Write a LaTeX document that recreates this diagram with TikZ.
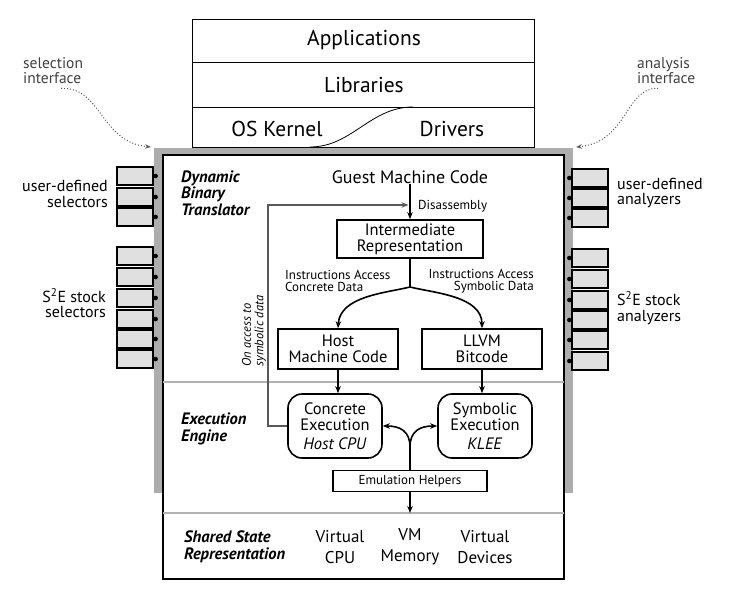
\documentclass[tikz,border=0pt]{standalone}
\usepackage{fontspec}
\setmainfont{PT Sans}
\usetikzlibrary{arrows.meta}
\tikzset{
  blk/.style={draw, line width=1.6pt, fill=white, align=center, inner sep=0pt, font=\fontsize{16.5}{16}\selectfont},
  exec/.style={blk, rounded corners=14pt, minimum width=94pt, minimum height=64pt},
  selbox/.style={draw, line width=1.3pt, fill=black!12, minimum width=36pt, minimum height=18pt, inner sep=0pt},
  side/.style={font=\fontsize{16}{15.5}\selectfont, inner sep=0pt},
  iface/.style={font=\fontsize{15.5}{15}\selectfont, text=black!75, align=left, inner sep=0pt},
  stack/.style={font=\fontsize{21.5}{21.5}\selectfont, inner sep=0pt},
  part/.style={font=\bfseries\itshape\fontsize{16.5}{16.5}\selectfont, align=left, inner sep=0pt},
  small/.style={font=\fontsize{13}{12.5}\selectfont, inner sep=0pt},
  state/.style={font=\fontsize{17}{21}\selectfont, align=center, inner sep=0pt},
  flow/.style={line width=1.6pt, ->},
}
\begin{document}
\begin{tikzpicture}[x=1pt, y=-1pt, >={Stealth[length=7pt, width=5.5pt]}]
		%%%%% START %%%%%
		\useasboundingbox (0,0) rectangle (731,591);
		
		\draw[line width=0.8pt] (192,19) rectangle (534,147);
		\draw[line width=0.8pt] (192,62) -- (534,62);
		\draw[line width=0.8pt] (192,107) -- (534,107);
		\draw[line width=0.8pt] (310,147) .. controls (352,147) and (370,107) .. (413,107);
		\node[stack] (app) at (364,40) {Applications};
		\node[stack] (lib) at (364,85) {Libraries};
		\node[stack] (kern) at (277,129) {OS Kernel};
		\node[stack] (drv) at (452,129) {Drivers};
		
		\fill[black!32] (154,148) rectangle (573,493);
		\draw[line width=2pt, fill=white] (163,155) rectangle (564,579);
		\draw[line width=2pt, color=black!30] (163,382) -- (564,382);
		\draw[line width=2pt, color=black!30] (163,513) -- (564,513);
		\coordinate (selin) at (151,147);
		\coordinate (anain) at (576,147);
		
		\foreach \y [count=\i] in {176,197,217,256,277,298,319,339,359}
		{
			\node[selbox] (sel\i) at (135,\y) {};
			\fill ([xshift=2pt]sel\i.east) circle (2.3pt);
		}
		\foreach \y [count=\i] in {178,198,218,258,279,300,320,340,361}
		{
			\node[selbox] (ana\i) at (590,\y) {};
			\fill ([xshift=-2pt]ana\i.west) circle (2.3pt);
		}
		\node[side, anchor=east, align=right] (usel) at (108,194) {user-defined\\selectors};
		\node[side, anchor=east, align=right] (ssel) at (106,303) {S\textsuperscript{2}E stock\\selectors};
		\node[side, anchor=west, align=left] (uana) at (617,193) {user-defined\\analyzers};
		\node[side, anchor=west, align=left] (sana) at (617,308) {S\textsuperscript{2}E stock\\analyzers};
		
		\node[iface, anchor=west] (selint) at (23,71) {selection\\interface};
		\node[iface, anchor=west] (anaint) at (637,71) {analysis\\interface};
		\draw[dotted, line width=1pt, color=black!65, -{Stealth[length=6pt]}] ([xshift=8pt, yshift=-4pt]selint.south) .. controls (102,87) and (100,142) .. (selin);
		\draw[dotted, line width=1pt, color=black!65, -{Stealth[length=6pt]}] ([xshift=-8pt, yshift=-4pt]anaint.south) .. controls (625,87) and (628,142) .. (anain);
		
		\node[part, anchor=west] (dbt) at (181,193) {Dynamic\\Binary\\Translator};
		\node[part, anchor=west] (ee) at (181,429) {Execution\\Engine};
		\node[part, anchor=west] (ssr) at (184,547) {Shared State\\Representation};
		
		\node[font=\fontsize{18}{18}\selectfont, inner sep=0pt] (gmc) at (410,177) {Guest Machine Code};
		\node[blk, minimum width=146pt, minimum height=38pt] (ir) at (410,239) {Intermediate\\Representation};
		\node[small, anchor=west] (disl) at (418,206) {Disassembly};
		\node[small, align=left, anchor=west] (ical) at (285,281) {Instructions Access\\Concrete Data};
		\node[small, align=right, anchor=east] (isyl) at (534,281) {Instructions Access\\Symbolic Data};
		\node[blk, minimum width=120pt, minimum height=40pt] (host) at (338,349) {Host\\Machine Code};
		\node[blk, minimum width=120pt, minimum height=40pt] (llvm) at (482,349) {LLVM\\Bitcode};
		\node[exec] (conc) at (335,426) {Concrete\\Execution\\[3pt]\textit{Host CPU}};
		\node[exec] (symb) at (485,426) {Symbolic\\Execution\\[3pt]\textit{KLEE}};
		\node[blk, minimum width=154pt, minimum height=21pt, font=\fontsize{13}{13}\selectfont] (emu) at (410,481) {Emulation Helpers};
		\node[small, font=\itshape\fontsize{12.5}{12.5}\selectfont, rotate=90, align=left] (onacc) at (254,331) {On access to\\symbolic data};
		
		\node[state] (vcpu) at (340,547) {Virtual\\CPU};
		\node[state] (vmem) at (410,547) {VM\\Memory};
		\node[state] (vdev) at (485,547) {Virtual\\Devices};
		
		\coordinate (dis) at (410,205);
		\coordinate (fork) at (410,287);
		\coordinate (efork) at (410,447);
		\coordinate (mem) at (410,513);
		
		\draw[flow, color=black!65, shorten >=1.5pt] (conc.west) -- ++(-19,0) |- (dis);
		\draw[flow] (gmc) -- (ir);
		\draw[line width=1.6pt] (ir.south) -- (fork);
		\draw[flow] (fork) .. controls (386,293) and (340,296) .. (host.north);
		\draw[flow] (fork) .. controls (434,293) and (482,296) .. (llvm.north);
		\draw[flow] (host.south) -- (host.south |- conc.north);
		\draw[flow] (llvm.south) -- (llvm.south |- symb.north);
		\draw[line width=1.6pt] (emu.north) -- (efork);
		\draw[flow] (efork) .. controls (410,431) and (400,426) .. (conc.east);
		\draw[flow] (efork) .. controls (410,431) and (420,426) .. (symb.west);
		\draw[flow] (emu.south) -- (mem);
		
		%%%%% END %%%%%
\end{tikzpicture}
\end{document}
